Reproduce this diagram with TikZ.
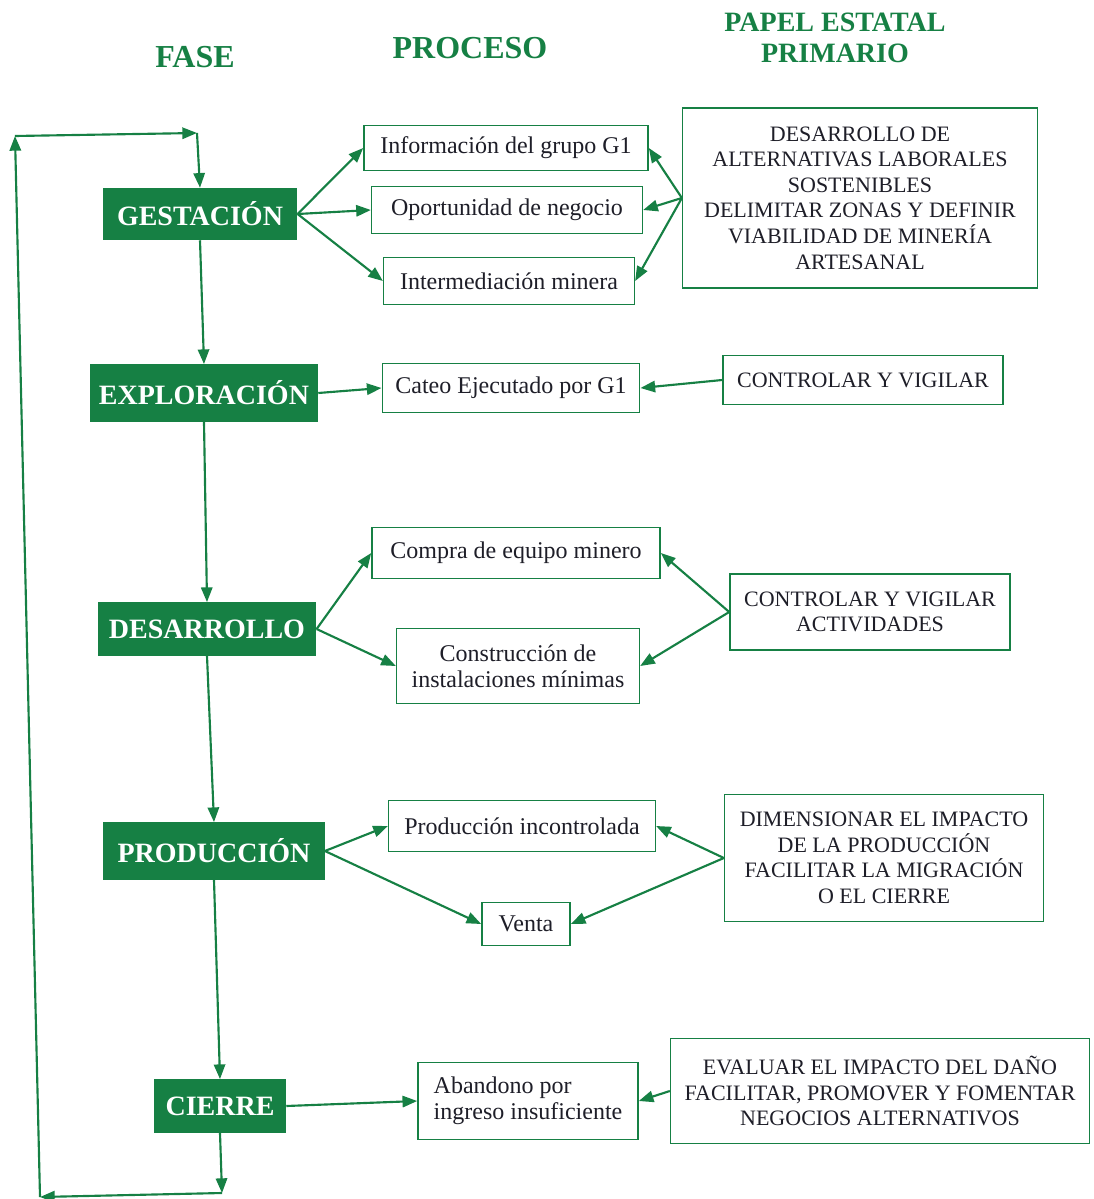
\documentclass[tikz,border=0pt]{standalone}
\usepackage{fontspec}
\setmainfont{Liberation Serif}
\usetikzlibrary{arrows.meta}
\definecolor{verde}{RGB}{22,128,68}
\definecolor{tinta}{RGB}{30,30,40}
\begin{document}
\begin{tikzpicture}[x=0.75pt,y=-0.75pt,
  flow/.style={draw=verde, line width=1.6pt, -{Triangle[length=11pt,width=8.5pt]}},
  fase/.style={fill=verde, text=white, inner sep=0pt,
    font=\fontsize{21}{24}\selectfont\bfseries},
  proc/.style={draw=verde, line width=1.2pt, fill=white, text=tinta, inner sep=0pt,
    align=center, font=\fontsize{18}{19.5}\selectfont},
  papel/.style={draw=verde, line width=1.2pt, fill=white, text=tinta, inner sep=0pt,
    align=center, font=\fontsize{16.5}{19.2}\selectfont},
  head/.style={text=verde, align=center, font=\fontsize{24}{26}\selectfont\bfseries}]
\useasboundingbox (0,0) rectangle (1093,1199);

% column headings
\node[head] (hfase) at (195,57) {FASE};
\node[head] (hproc) at (470,48) {PROCESO};
\node[head, font=\fontsize{21}{23}\selectfont\bfseries] (hpapel) at (835,38) {PAPEL ESTATAL\\PRIMARIO};

% phases
\node[fase, minimum width=146pt, minimum height=39pt] (ges) at (200,214) {GESTACIÓN};
\node[fase, minimum width=171pt, minimum height=43pt] (exp) at (204,393) {EXPLORACIÓN};
\node[fase, minimum width=164pt, minimum height=40pt] (des) at (207,629) {DESARROLLO};
\node[fase, minimum width=166pt, minimum height=43pt] (pro) at (214,851) {PRODUCCIÓN};
\node[fase, minimum width=99pt, minimum height=40pt] (cie) at (220,1106) {CIERRE};

% processes
\node[proc, minimum width=213pt, minimum height=34pt] (info) at (506,148) {Información del grupo G1};
\node[proc, minimum width=203pt, minimum height=35pt] (opor) at (507,210) {Oportunidad de negocio};
\node[proc, minimum width=188pt, minimum height=35pt] (inter) at (509,281) {Intermediación minera};
\node[proc, minimum width=193pt, minimum height=37pt] (cateo) at (511,388) {Cateo Ejecutado por G1};
\node[proc, minimum width=216pt, minimum height=38pt] (compra) at (516,553) {Compra de equipo minero};
\node[proc, minimum width=182pt, minimum height=56pt] (constr) at (518,666) {Construcción de\\instalaciones mínimas};
\node[proc, minimum width=200pt, minimum height=38pt] (prodinc) at (522,826) {Producción incontrolada};
\node[proc, minimum width=66pt, minimum height=32pt] (venta) at (526,924) {Venta};
\node[proc, align=left, minimum width=165pt, minimum height=58pt] (aband) at (528,1101) {Abandono por\\ingreso insuficiente};

% primary state role
\node[papel, minimum width=266pt, minimum height=135pt] (rol1) at (860,198)
  {DESARROLLO DE\\ALTERNATIVAS LABORALES\\SOSTENIBLES\\DELIMITAR ZONAS Y DEFINIR\\VIABILIDAD DE MINERÍA\\ARTESANAL};
\node[papel, minimum width=210pt, minimum height=37pt] (rol2) at (863,380) {CONTROLAR Y VIGILAR};
\node[papel, minimum width=210pt, minimum height=57pt] (rol3) at (870,612) {CONTROLAR Y VIGILAR\\ACTIVIDADES};
\node[papel, minimum width=239pt, minimum height=95pt] (rol4) at (884,858)
  {DIMENSIONAR EL IMPACTO\\DE LA PRODUCCIÓN\\FACILITAR LA MIGRACIÓN\\O EL CIERRE};
\node[papel, minimum width=314pt, minimum height=79pt] (rol5) at (880,1091)
  {EVALUAR EL IMPACTO DEL DAÑO\\FACILITAR, PROMOVER Y FOMENTAR\\NEGOCIOS ALTERNATIVOS};

% loop back to the start
\coordinate (b1) at (222,1193);
\coordinate (b2) at (40,1197);
\coordinate (t1) at (15,136);
\coordinate (t2) at (197,133);

% phase sequence
\draw[flow] (ges.south) -- (exp.north);
\draw[flow] (exp.south) -- (des.north);
\draw[flow] (des.south) -- (pro.north);
\draw[flow] (pro.south) -- (cie.north);
\draw[flow] (cie.south) -- (b1);
\draw[flow] (b1) -- (b2);
\draw[flow] (b2) -- (t1);
\draw[flow] (t1) -- (t2);
\draw[flow] (t2) -- (ges.north);

% phase to process
\draw[flow] (ges.east) -- (info.west);
\draw[flow] (ges.east) -- (opor.west);
\draw[flow] (ges.east) -- (inter.west);
\draw[flow] (exp.east) -- (cateo.west);
\draw[flow] (des.east) -- (compra.west);
\draw[flow] (des.east) -- (constr.west);
\draw[flow] (pro.east) -- (prodinc.west);
\draw[flow] (pro.east) -- (venta.west);
\draw[flow] (cie.east) -- (aband.west);

% state role to process
\draw[flow] (rol1.west) -- (info.east);
\draw[flow] (rol1.west) -- (opor.east);
\draw[flow] (rol1.west) -- (inter.east);
\draw[flow] (rol2.west) -- (cateo.east);
\draw[flow] (rol3.west) -- (compra.east);
\draw[flow] (rol3.west) -- (constr.east);
\draw[flow] (rol4.west) -- (prodinc.east);
\draw[flow] (rol4.west) -- (venta.east);
\draw[flow] (rol5.west) -- (aband.east);
\end{tikzpicture}
\end{document}
